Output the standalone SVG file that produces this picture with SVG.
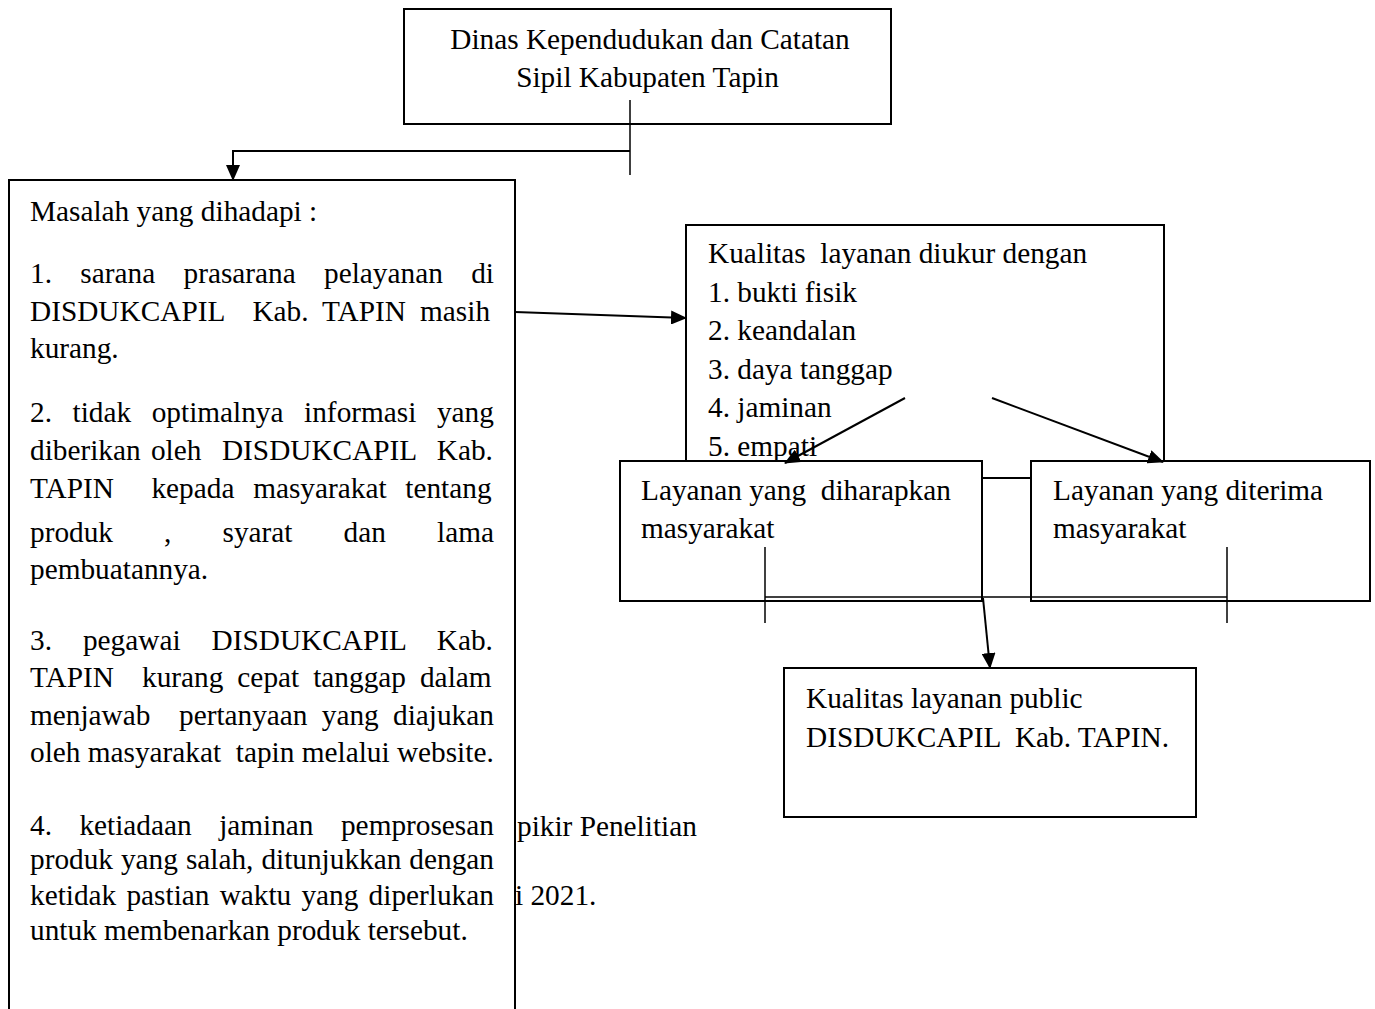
<svg xmlns="http://www.w3.org/2000/svg" width="1375" height="1009" viewBox="0 0 1375 1009">
<style>
.t{font-family:"Liberation Serif","Times New Roman",serif;font-size:29.3px;fill:#000}
.box{fill:#fff;stroke:#000;stroke-width:2}
.ln{fill:none;stroke:#000;stroke-width:2}
.thin{fill:none;stroke:#000;stroke-width:1.5}
</style>
<defs>
<marker id="ah" markerUnits="userSpaceOnUse" markerWidth="16" markerHeight="14" refX="15" refY="7" orient="auto">
<path d="M0,0 L16,7 L0,14 Z" fill="#000"/>
</marker>
</defs>
<rect width="1375" height="1009" fill="#fff"/>

<g id="caption">
<text class="t" x="517" y="836">pikir Penelitian</text>
<text class="t" x="515" y="905">i 2021.</text>
</g>

<g id="node-dinas">
<rect class="box" x="404" y="9" width="487" height="115"/>
<text class="t" x="650" y="49" text-anchor="middle">Dinas Kependudukan dan Catatan</text>
<text class="t" x="647.5" y="87" text-anchor="middle">Sipil Kabupaten Tapin</text>
</g>

<g id="node-masalah">
<path class="box" d="M9,1012 V180 H515 V1012"/>
<text class="t" x="30" y="221">Masalah yang dihadapi :</text>
<text class="t" x="30" y="283" style="word-spacing:21.02px">1. sarana prasarana pelayanan di</text>
<text class="t" x="30" y="321" xml:space="preserve" style="word-spacing:6.75px">DISDUKCAPIL  Kab. TAPIN masih</text>
<text class="t" x="30" y="358">kurang.</text>
<text class="t" x="30" y="422" style="word-spacing:13.25px">2. tidak optimalnya informasi yang</text>
<text class="t" x="30" y="460" xml:space="preserve" style="word-spacing:2.96px">diberikan oleh  DISDUKCAPIL  Kab.</text>
<text class="t" x="30" y="498" xml:space="preserve" style="word-spacing:11.44px">TAPIN  kepada masyarakat tentang</text>
<text class="t" x="30" y="542" style="word-spacing:43.78px">produk , syarat dan lama</text>
<text class="t" x="30" y="579">pembuatannya.</text>
<text class="t" x="30" y="650" style="word-spacing:23.66px">3. pegawai DISDUKCAPIL Kab.</text>
<text class="t" x="30" y="687" xml:space="preserve" style="word-spacing:6.71px">TAPIN  kurang cepat tanggap dalam</text>
<text class="t" x="30" y="725" xml:space="preserve" style="word-spacing:6.97px">menjawab  pertanyaan yang diajukan</text>
<text class="t" x="30" y="762" xml:space="preserve">oleh masyarakat  tapin melalui website.</text>
<text class="t" x="30" y="835" style="word-spacing:20.14px">4. ketiadaan jaminan pemprosesan</text>
<text class="t" x="30" y="869" style="word-spacing:0.65px">produk yang salah, ditunjukkan dengan</text>
<text class="t" x="30" y="905" style="word-spacing:2.89px">ketidak pastian waktu yang diperlukan</text>
<text class="t" x="30" y="940">untuk membenarkan produk tersebut.</text>
</g>

<g id="node-kualitas-ukur">
<rect class="box" x="686" y="225" width="478" height="253"/>
<text class="t" x="708" y="263" xml:space="preserve">Kualitas  layanan diukur dengan</text>
<text class="t" x="708" y="302">1. bukti fisik</text>
<text class="t" x="708" y="340">2. keandalan</text>
<text class="t" x="708" y="379">3. daya tanggap</text>
<text class="t" x="708" y="417">4. jaminan</text>
<text class="t" x="708" y="456">5. empati</text>
</g>

<g id="node-diharapkan">
<rect class="box" x="620" y="461" width="362" height="140"/>
<text class="t" x="641" y="500" xml:space="preserve">Layanan yang  diharapkan</text>
<text class="t" x="641" y="538">masyarakat</text>
</g>

<g id="node-diterima">
<rect class="box" x="1031" y="461" width="339" height="140"/>
<text class="t" x="1053" y="500">Layanan yang diterima</text>
<text class="t" x="1053" y="538">masyarakat</text>
</g>

<g id="node-publik">
<rect class="box" x="784" y="668" width="412" height="149"/>
<text class="t" x="806" y="708">Kualitas layanan public</text>
<text class="t" x="806" y="747" xml:space="preserve">DISDUKCAPIL  Kab. TAPIN.</text>
</g>

<g id="connectors">
<line class="thin" x1="630" y1="100" x2="630" y2="175"/>
<polyline class="ln" points="630,151 233,151 233,180" marker-end="url(#ah)"/>
<line class="ln" x1="515" y1="312" x2="686" y2="318" marker-end="url(#ah)"/>
<line class="ln" x1="905" y1="398" x2="785" y2="463" marker-end="url(#ah)"/>
<line class="ln" x1="992" y1="398" x2="1163" y2="462" marker-end="url(#ah)"/>
<line class="thin" x1="765" y1="547" x2="765" y2="623"/>
<line class="thin" x1="1227" y1="547" x2="1227" y2="623"/>
<line class="thin" x1="765" y1="597" x2="1227" y2="597"/>
<line class="ln" x1="983" y1="598" x2="990" y2="668" marker-end="url(#ah)"/>
</g>
</svg>
